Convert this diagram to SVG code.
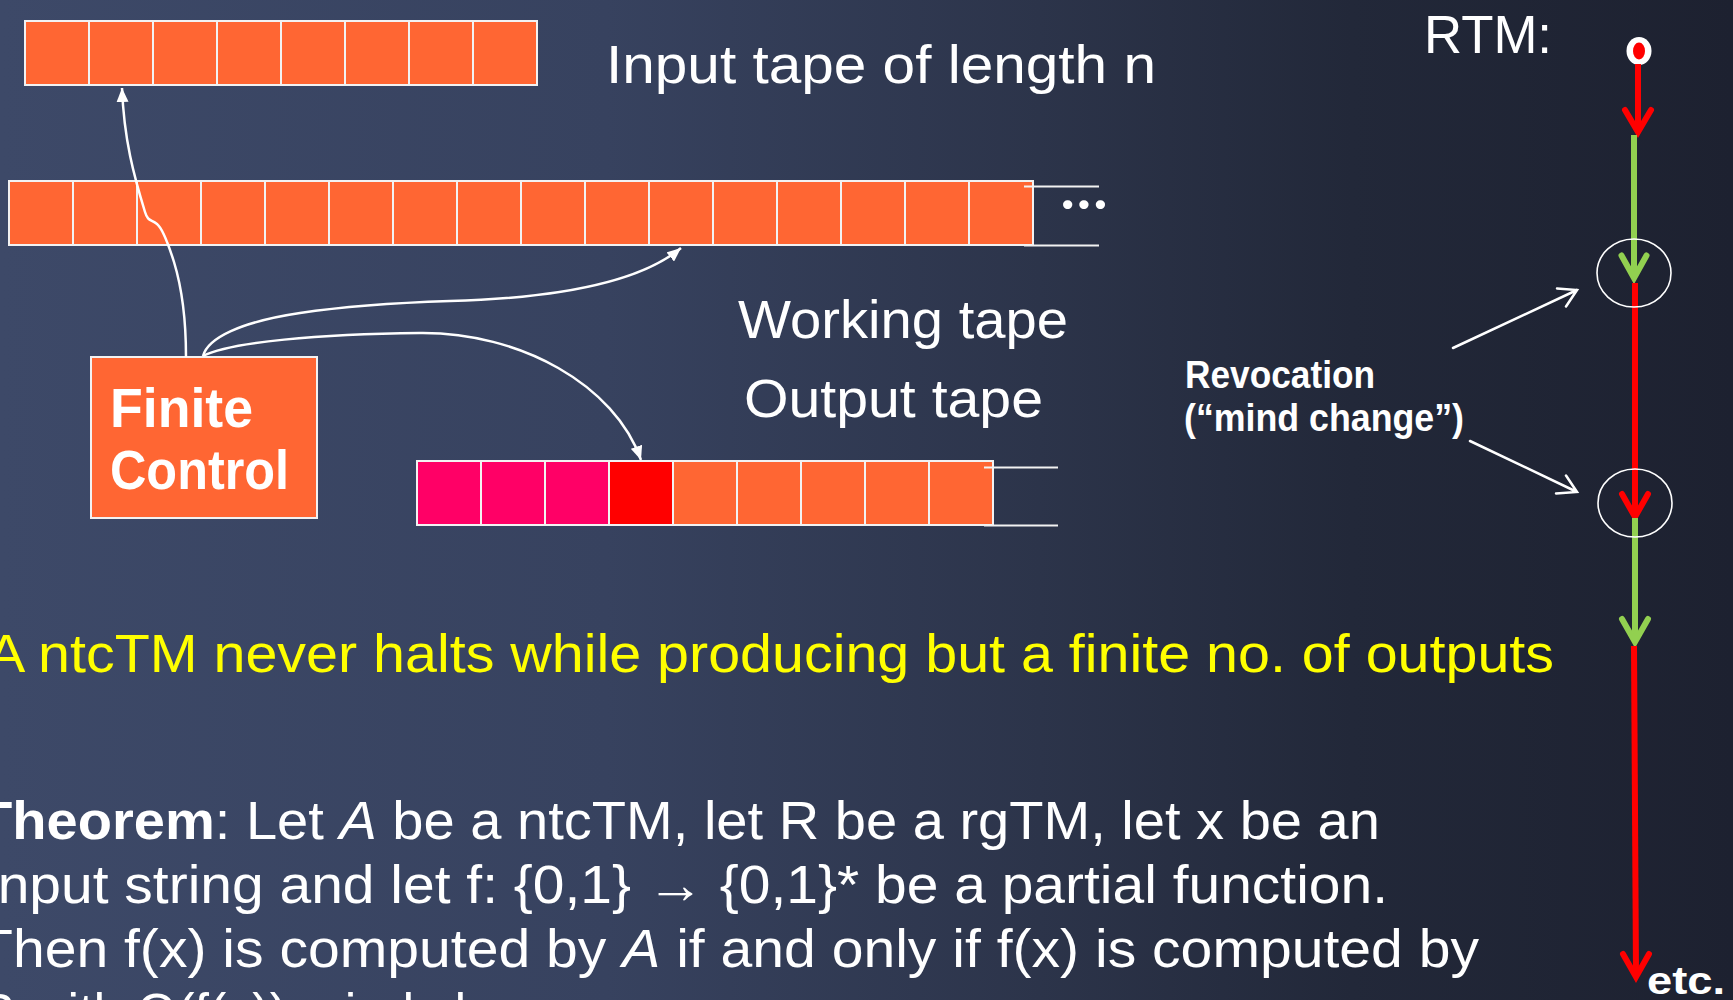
<svg xmlns="http://www.w3.org/2000/svg" width="1733" height="1000" viewBox="0 0 1733 1000">
<defs>
<linearGradient id="bg" x1="0" y1="0" x2="1733" y2="0" gradientUnits="userSpaceOnUse">
<stop offset="0" stop-color="#3d4968"/>
<stop offset="0.35" stop-color="#37425f"/>
<stop offset="0.6" stop-color="#2c344a"/>
<stop offset="0.78" stop-color="#222839"/>
<stop offset="1" stop-color="#1d2130"/>
</linearGradient>
<marker id="ah" viewBox="0 0 14 12" refX="14" refY="6" markerWidth="14" markerHeight="12" markerUnits="userSpaceOnUse" orient="auto">
<path d="M0,0 L14,6 L0,12 Z" fill="#ffffff"/>
</marker>
<style>
.cell{fill:#ff6633;stroke:#f2f2f2;stroke-width:2}
.pink{fill:#ff0066}
.red{fill:#ff0000}
.ext{stroke:#f2f2f2;stroke-width:2}
.t{font-family:"Liberation Sans","DejaVu Sans",sans-serif;fill:#ffffff}
.b{font-weight:bold}
.y{fill:#ffff00}
.dots{font-family:Lato,"Liberation Sans",sans-serif;font-weight:900;fill:#ffffff}
.conn{fill:none;stroke:#ffffff;stroke-width:2.5}
.thin{fill:none;stroke:#ffffff;stroke-width:2.5;stroke-linecap:round}
.ring{fill:none;stroke:#ffffff;stroke-width:1.6}
.rl{stroke:#ff0000;stroke-width:6;fill:none}
.gl{stroke:#92d050;stroke-width:6;fill:none}
.rv{stroke:#ff0000;stroke-width:6;fill:none;stroke-linecap:round;stroke-linejoin:miter}
.gv{stroke:#92d050;stroke-width:6;fill:none;stroke-linecap:round;stroke-linejoin:miter}
</style>
</defs>
<rect x="0" y="0" width="1733" height="1000" fill="url(#bg)"/>

<g id="input-tape">
<rect class="cell" x="25" y="21" width="64" height="64"/>
<rect class="cell" x="89" y="21" width="64" height="64"/>
<rect class="cell" x="153" y="21" width="64" height="64"/>
<rect class="cell" x="217" y="21" width="64" height="64"/>
<rect class="cell" x="281" y="21" width="64" height="64"/>
<rect class="cell" x="345" y="21" width="64" height="64"/>
<rect class="cell" x="409" y="21" width="64" height="64"/>
<rect class="cell" x="473" y="21" width="64" height="64"/>
</g>
<text id="input-label" class="t" x="606" y="83" font-size="54" textLength="550" lengthAdjust="spacingAndGlyphs">Input tape of length n</text>

<g id="working-tape">
<rect class="cell" x="9" y="181" width="64" height="64"/>
<rect class="cell" x="73" y="181" width="64" height="64"/>
<rect class="cell" x="137" y="181" width="64" height="64"/>
<rect class="cell" x="201" y="181" width="64" height="64"/>
<rect class="cell" x="265" y="181" width="64" height="64"/>
<rect class="cell" x="329" y="181" width="64" height="64"/>
<rect class="cell" x="393" y="181" width="64" height="64"/>
<rect class="cell" x="457" y="181" width="64" height="64"/>
<rect class="cell" x="521" y="181" width="64" height="64"/>
<rect class="cell" x="585" y="181" width="64" height="64"/>
<rect class="cell" x="649" y="181" width="64" height="64"/>
<rect class="cell" x="713" y="181" width="64" height="64"/>
<rect class="cell" x="777" y="181" width="64" height="64"/>
<rect class="cell" x="841" y="181" width="64" height="64"/>
<rect class="cell" x="905" y="181" width="64" height="64"/>
<rect class="cell" x="969" y="181" width="64" height="64"/>
<line class="ext" x1="1024" y1="186.5" x2="1099" y2="186.5"/>
<line class="ext" x1="1024" y1="245.5" x2="1099" y2="245.5"/>
<text class="dots" x="1061" y="209" font-size="56" textLength="46" lengthAdjust="spacing">...</text>
</g>
<text id="working-label" class="t" x="738" y="338" font-size="54" textLength="330" lengthAdjust="spacingAndGlyphs">Working tape</text>

<g id="output-tape">
<rect class="cell pink" x="417" y="461" width="64" height="64"/>
<rect class="cell pink" x="481" y="461" width="64" height="64"/>
<rect class="cell pink" x="545" y="461" width="64" height="64"/>
<rect class="cell red" x="609" y="461" width="64" height="64"/>
<rect class="cell" x="673" y="461" width="64" height="64"/>
<rect class="cell" x="737" y="461" width="64" height="64"/>
<rect class="cell" x="801" y="461" width="64" height="64"/>
<rect class="cell" x="865" y="461" width="64" height="64"/>
<rect class="cell" x="929" y="461" width="64" height="64"/>
<line class="ext" x1="984" y1="467.5" x2="1058" y2="467.5"/>
<line class="ext" x1="984" y1="525.5" x2="1058" y2="525.5"/>
</g>
<text id="output-label" class="t" x="744" y="417" font-size="54" textLength="299" lengthAdjust="spacingAndGlyphs">Output tape</text>

<g id="finite-control">
<rect x="91" y="357" width="226" height="161" fill="#ff6633" stroke="#f2f2f2" stroke-width="2"/>
<text class="t b" x="110" y="427" font-size="56" textLength="143" lengthAdjust="spacingAndGlyphs">Finite</text>
<text class="t b" x="110" y="489" font-size="56" textLength="179" lengthAdjust="spacingAndGlyphs">Control</text>
</g>

<g id="connectors">
<path class="conn" marker-end="url(#ah)" d="M186,357 C186,320 181,285 174,262 C168,243 162,228 157,224 C151,219 148,222 145,212 C134,176 124,140 122,88"/>
<path class="conn" marker-end="url(#ah)" d="M203,356 C208,338 240,322 300,313 C360,304 420,302 450,301 C560,298 640,282 681,248"/>
<path class="conn" marker-end="url(#ah)" d="M203,356 C230,342 320,334 420,333 C520,332 615,385 641,460"/>
<path class="thin" d="M1453,348 L1577,290 M1557,288.5 L1577,290 L1566,306.5"/>
<path class="thin" d="M1470,441 L1577,492 M1556,493.5 L1577,492 L1566,475.5"/>
</g>

<text id="rtm-label" class="t" x="1424" y="53" font-size="54" textLength="128" lengthAdjust="spacingAndGlyphs">RTM:</text>

<g id="rtm-start">
<ellipse cx="1639" cy="51" rx="12.5" ry="14" fill="#ffffff"/>
<ellipse cx="1639" cy="51" rx="6" ry="8.5" fill="#ff0000"/>
</g>
<g id="rtm-run">
<line class="rl" x1="1638" y1="64" x2="1638" y2="128"/>
<path class="rv" d="M1625,110 L1638,132 L1651,110"/>
<line class="gl" x1="1634" y1="135" x2="1634" y2="275"/>
<path class="gv" d="M1621.5,255.5 L1634,278 L1646.5,255.5"/>
<line class="rl" x1="1635" y1="283" x2="1635" y2="514"/>
<path class="rv" d="M1622,494 L1635,517 L1648,494"/>
<line class="gl" x1="1635" y1="518" x2="1635" y2="638"/>
<path class="gv" d="M1622,619 L1635,642 L1648,619"/>
<line class="rl" x1="1634" y1="646" x2="1636" y2="973"/>
<path class="rv" d="M1623,954 L1636,977 L1649,954"/>
</g>
<g id="revision-1"><ellipse class="ring" cx="1634" cy="273" rx="37" ry="34"/></g>
<g id="revision-2"><ellipse class="ring" cx="1635" cy="503" rx="37" ry="34"/></g>
<text id="etc-label" class="t b" x="1647" y="994" font-size="38" textLength="78" lengthAdjust="spacingAndGlyphs">etc.</text>

<g id="revocation-label">
<text class="t b" x="1185" y="388" font-size="38" textLength="190" lengthAdjust="spacingAndGlyphs">Revocation</text>
<text class="t b" x="1184" y="431" font-size="38" textLength="280" lengthAdjust="spacingAndGlyphs">(“mind change”)</text>
</g>

<text id="statement" class="t y" x="-13" y="672" font-size="54" textLength="1567" lengthAdjust="spacingAndGlyphs">A ntcTM never halts while producing but a finite no. of outputs</text>

<g id="theorem">
<text class="t" x="-22" y="839" font-size="54" textLength="1402" lengthAdjust="spacingAndGlyphs"><tspan font-weight="bold">Theorem</tspan>: Let <tspan font-style="italic">A</tspan> be a ntcTM, let R be a rgTM, let x be an</text>
<text class="t" x="-15" y="903" font-size="54" textLength="1403" lengthAdjust="spacingAndGlyphs">input string and let f: {0,1} → {0,1}* be a partial function.</text>
<text class="t" x="-22" y="967" font-size="54" textLength="1501" lengthAdjust="spacingAndGlyphs">Then f(x) is computed by <tspan font-style="italic">A</tspan> if and only if f(x) is computed by</text>
<text class="t" x="-22" y="1031" font-size="54" textLength="647" lengthAdjust="spacingAndGlyphs">R with O(f(x)) mind changes</text>
</g>
</svg>
